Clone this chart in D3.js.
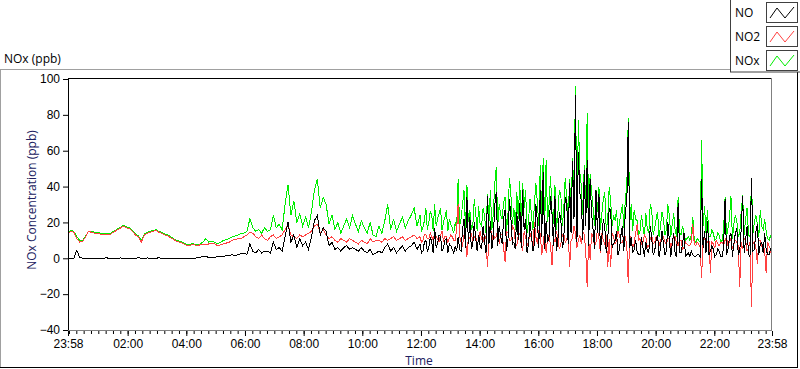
<!DOCTYPE html>
<html>
<head>
<meta charset="utf-8">
<script src="https://cdn.jsdelivr.net/npm/d3@7"></script>
<style>
  body { margin: 0; background: #fff; }
  svg { display: block; font-family: "Open Sans", sans-serif; }
</style>
</head>
<body>
<div id="chart"></div>
<script>
// early part: one sample every 6 minutes from 23:58 to 11:52
var no2Early = [14,15,14.5,11,9,9.5,12,15,14.5,14, 14,13.5,13,13.5,13,14,15,16,17,18, 17,16.5,15,13,12,9,13,14,14.5,15,
  15.5,14.5,14,13,12.5,11.5,10.5,9.5,9,8.5, 7.5,7,7.5,7.5,7,7.5,8,7.5,8,8.5, 8,7,7.5,8,8.5,9,10,10.5,11,11, 12,
  13,14.5,14,12,11,13,11,10,12, 13,11,12,13,16,19,13,12,11,13, 12,13,14,15,18,19,14,16,13,11, 12,10,9,11,10,9,11,10,9,8, 10,9,8,11,9,10,
  10,9,11,10,11,12,10,11,12,10, 11,12,13,11];
var noxEarly = [14,15.5,15,12,10,10,12.5,15,15,14.5, 14.5,14,13.5,14,13.5,14.5,15.5,16.5,17.5,18.5, 17.5,17,15.5,13.5,12.5,10,13.5,14.5,15,15.5,
  16,15,14.5,13.5,13,12,11,10,9.5,9, 8,7.5,8,8,7.5,8,9,11,9,9.5, 9,8,9,10,10.5,11,12,12.5,13,14, 14,
  15,22,17,15,16,14,17,15,16, 24,17,19,16,30,41,24,32,20,25, 18,23,17,26,38,44,28,34,30,19, 24,16,20,14,18,22,17,24,19,15, 21,17,14,20,13,12,
  18,14,21,30,16,22,15,19,23,17, 21,24,28,18];
var noEarly = [0,0,0,4.5,0.5,0,0,0,0,0, 0,0,0,0.3,0,0,0,0,0.2,0, 0,0,0,0,0.3,0,0,0.2,0,0,
  0,0.3,0,0,0,0,0,0,0,0, 0,0,0,0,0.2,0.5,1,1,0.5,0.5, 0.5,1,1,1,1.5,1.5,2,1.5,2,2.5, 3,
  2,8,4,3,5,3,4,4,3, 9,5,6,4,12,20,9,13,6,11, 7,9,5,12,21,24,13,17,15,7, 9,5,6,4,6,7,5,6,5,4, 6,4,3,5,2,3,
  4,3,6,8,4,6,3,5,7,4, 6,7,9,5];

// late part: one sample every 3 minutes from 11:58 to 23:58
var no2Late = [12,9,10,13,13,11,11,14,12,10,14,12,11,9,13,15,10,12,12,9,11,13,12,10,10,16,30,12,9,7,13,10,1,12,11,14,9,12,12,8,
  10,15,11,9,13,11,-5,12,20,9,14,11,12,16,8,13,13,6,-2,15,14,10,10,18,17,9,7,13,14,8,4,15,12,7,9,14,11,6,20,12,
  8,15,14,2,8,16,3,11,13,7,-4,12,9,15,12,5,8,13,14,9,10,16,-5,10,11,18,14,6,10,13,8,15,13,4,-16,11,-1,14,12,7,
  9,16,11,3,14,10,8,13,-5,11,-5,14,12,8,10,15,13,9,9,12,12,7,-14,13,11,6,8,14,19,10,11,8,9,13,12,6,7,11,13,8,
  9,12,11,7,10,13,12,9,8,11,11,6,9,12,12,8,7,10,10,5,6,9,8,7,7,9,19,8,7,9,8,6,-11,10,12,7,9,11,-8,9,8,6,
  10,8,7,9,9,7,10,12,7,9,11,5,8,10,9,7,-16,9,5,11,10,4,6,9,-27,8,9,6,-3,10,10,7,8,4,-8,9,7,5,-1];
var noxLate = [24,15,17,21,28,16,20,26,24,15,30,18,22,25,28,16,20,23,27,15,22,19,17,14,20,16,44,18,22,30,38,17,41,20,27,16,18,33,25,15,
  29,19,18,28,24,14,36,20,38,16,25,42,51,18,30,24,22,31,34,15,25,45,35,19,28,16,37,22,43,17,42,28,38,14,21,33,24,16,30,42,
  31,18,52,24,56,17,55,20,30,46,26,19,41,16,25,38,36,18,27,45,34,20,44,26,56,35,96,22,77,48,40,24,52,30,81,20,47,37,28,18,
  38,26,40,16,25,33,37,15,22,40,32,18,24,21,27,14,20,25,30,17,33,40,78,19,30,15,27,22,21,13,15,24,18,12,25,16,14,30,27,13,
  17,22,26,12,18,26,22,13,16,30,24,12,19,25,15,12,34,14,13,18,14,10,11,12,10,13,23,10,9,11,10,9,66,18,29,14,27,12,12,16,
  14,10,11,14,13,9,10,16,34,12,17,22,35,11,19,24,21,12,14,26,35,13,22,28,13,12,45,14,20,24,19,12,27,18,16,22,15,11,10,13,8];
var noLate = [8,3,4,9,10,4,6,12,9,3,17,6,8,13,12,4,6,10,11,3,8,7,5,3,7,4,12,5,4,16,22,6,34,8,23,5,8,20,11,4,
  13,7,5,18,10,3,35,8,21,5,12,30,37,7,18,12,8,22,27,4,11,33,22,8,9,5,26,10,31,6,38,16,22,3,8,20,13,4,8,30,
  21,6,38,12,48,5,21,9,12,35,25,7,35,4,10,26,22,6,9,34,32,8,42,14,54,22,91,9,59,36,32,10,49,18,55,7,44,25,16,5,
  38,14,36,4,12,22,17,3,10,28,27,6,8,10,15,2,5,13,18,4,27,30,76,6,12,3,5,10,4,2,2,12,6,1,9,4,3,18,11,2,
  4,10,13,1,6,15,8,2,4,20,10,1,8,14,2,1,31,3,3,8,14,1,2,3,1,4,2,1,1,2,2,1,44,6,15,3,21,2,4,7,
  5,1,2,5,4,1,1,6,33,2,5,12,14,1,8,14,17,2,4,16,35,3,10,18,2,1,45,4,5,15,19,2,8,9,3,14,5,2,2,5,3];

var yTicks = [-40, -20, 0, 20, 40, 60, 80, 100];
var xTickLabels = ["23:58","02:00","04:00","06:00","08:00","10:00","12:00","14:00","16:00","18:00","20:00","22:00","23:58"];
var seriesNames = ["NO", "NO2", "NOx"];
var seriesColors = ["#000000", "#ff4040", "#00ee00"];

var W = 800, H = 369;
var start = new Date(2000, 0, 1, 23, 58);
var mid = d3.timeHour.offset(start, 12);
var end = d3.timeHour.offset(start, 24);

var times = noEarly.map(function(d, i) { return d3.timeMinute.offset(start, i * 6); })
  .concat(noLate.map(function(d, i) { return d3.timeMinute.offset(mid, i * 3); }));
var noData = noEarly.concat(noLate);
var no2Data = no2Early.concat(no2Late);
var noxData = noxEarly.concat(noxLate);

var svg = d3.select("#chart").append("svg")
  .attr("width", W).attr("height", H);

// outer panel
svg.append("line").attr("x1", 0).attr("x2", 730).attr("y1", 69.5).attr("y2", 69.5).attr("stroke", "#a0a0a0");
svg.append("line").attr("x1", 0.5).attr("x2", 0.5).attr("y1", 69).attr("y2", 368).attr("stroke", "#a0a0a0");
svg.append("line").attr("x1", 0).attr("x2", 798).attr("y1", 367.5).attr("y2", 367.5).attr("stroke", "#000");
svg.append("line").attr("x1", 797.5).attr("x2", 797.5).attr("y1", 70).attr("y2", 368).attr("stroke", "#000");

svg.append("text").attr("x", 4).attr("y", 63).style("font-size", "12px").attr("fill", "#000").text("NOx (ppb)");

var x = d3.scaleTime().domain([start, end]).range([68, 772]);
var y = d3.scaleLinear().domain([-40, 100]).range([330, 79]);

svg.append("clipPath").attr("id", "clip")
  .append("rect").attr("x", 69).attr("y", 79).attr("width", 703).attr("height", 251);

var plot = svg.append("g").attr("clip-path", "url(#clip)");

function lineFor(data) {
  return d3.line()
    .x(function(d, i) { return x(times[i]); })
    .y(function(d) { return y(d); })(data);
}

// draw order: NOx, NO2, NO on top
[[noxData, seriesColors[2]], [no2Data, seriesColors[1]], [noData, seriesColors[0]]].forEach(function(s) {
  plot.append("path")
    .attr("d", lineFor(s[0]))
    .attr("fill", "none")
    .attr("stroke", s[1])
    .attr("stroke-width", 1)
    .attr("shape-rendering", "crispEdges");
});

// plot frame
svg.append("line").attr("x1", 68).attr("x2", 772).attr("y1", 78.5).attr("y2", 78.5).attr("stroke", "#000");
svg.append("line").attr("x1", 68.5).attr("x2", 68.5).attr("y1", 78).attr("y2", 331).attr("stroke", "#000");
svg.append("line").attr("x1", 771.5).attr("x2", 771.5).attr("y1", 78).attr("y2", 331).attr("stroke", "#808080");
svg.append("line").attr("x1", 68).attr("x2", 772).attr("y1", 330.5).attr("y2", 330.5).attr("stroke", "#808080");

// y axis
var yAxis = svg.append("g")
  .attr("transform", "translate(68,0)")
  .call(d3.axisLeft(y).tickValues(yTicks).tickSize(5).tickSizeOuter(0));
yAxis.select(".domain").remove();
yAxis.selectAll("text").style("font-size", "12px").attr("fill", "#000").attr("x", -8);
yAxis.selectAll("line").attr("stroke", "#000");

// x axis: 23:58, even hours, 23:58 ; minor every 15 min
var majors = [start].concat(d3.timeHour.every(2).range(d3.timeMinute.offset(start, 3), end)).concat([end]);
var minors = d3.timeMinute.every(15).range(d3.timeMinute.offset(start, 1), end);

var xMinor = svg.append("g")
  .attr("transform", "translate(0,331)")
  .call(d3.axisBottom(x).tickValues(minors).tickSize(3).tickFormat(""));
xMinor.select(".domain").remove();
xMinor.selectAll("line").attr("stroke", "#000");

var xAxis = svg.append("g")
  .attr("transform", "translate(0,331)")
  .call(d3.axisBottom(x).tickValues(majors).tickSize(5).tickSizeOuter(0)
    .tickFormat(function(d, i) { return xTickLabels[i]; }));
xAxis.select(".domain").remove();
xAxis.selectAll("line").attr("stroke", "#000");
xAxis.selectAll("text").style("font-size", "12px").attr("fill", "#000").attr("y", 8);

// axis titles
svg.append("text")
  .attr("x", 419).attr("y", 365)
  .attr("text-anchor", "middle")
  .style("font-size", "12px").attr("fill", "#202060")
  .text("Time");

svg.append("text")
  .attr("transform", "translate(36,200) rotate(-90)")
  .attr("text-anchor", "middle")
  .style("font-size", "12px").attr("fill", "#202060")
  .text("NOx Concentration (ppb)");

// legend
var legend = svg.append("g");
legend.append("rect")
  .attr("x", 730.5).attr("y", -1).attr("width", 80).attr("height", 73)
  .attr("fill", "#fff").attr("stroke", "#404040");

seriesNames.forEach(function(name, i) {
  var gy = 2 + i * 24;
  legend.append("text")
    .attr("x", 735).attr("y", gy + 15)
    .style("font-size", "12px").attr("fill", "#000")
    .text(name);
  legend.append("rect")
    .attr("x", 766.5).attr("y", gy + 0.5).attr("width", 31).attr("height", 20)
    .attr("fill", "#fff").attr("stroke", "#404040");
  legend.append("polyline")
    .attr("points", [[770, gy + 16], [777, gy + 6], [785, gy + 16], [794, gy + 5]].join(" "))
    .attr("fill", "none").attr("stroke", seriesColors[i]).attr("stroke-width", 1);
});
</script>
</body>
</html>
